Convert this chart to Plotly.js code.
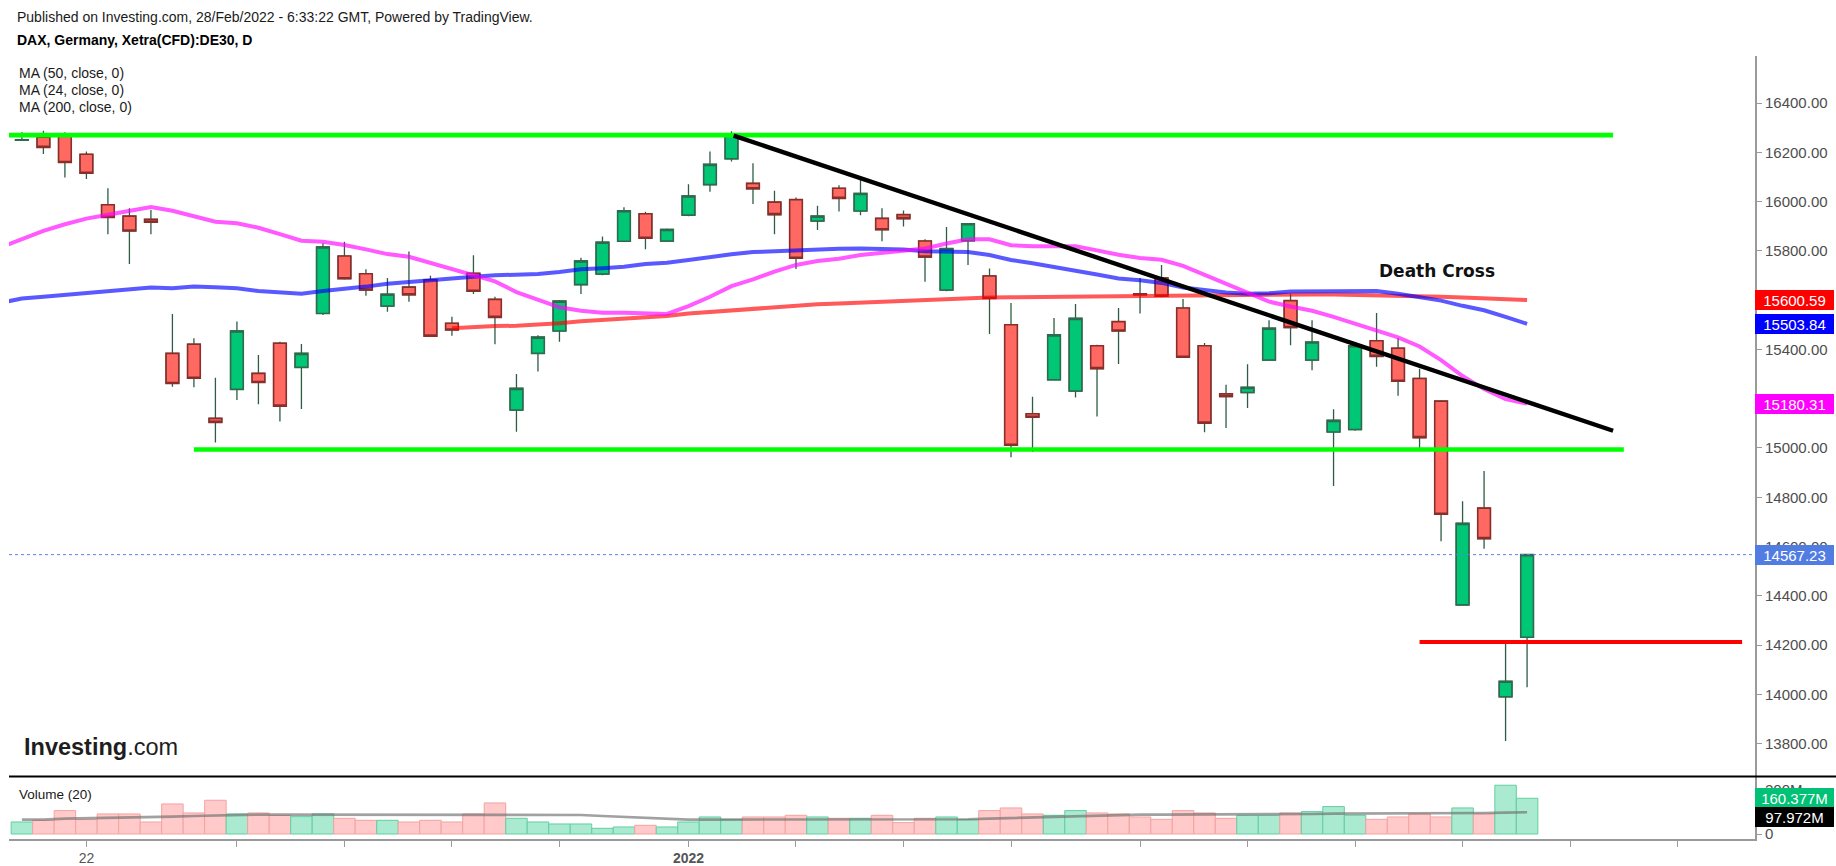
<!DOCTYPE html>
<html>
<head>
<meta charset="utf-8">
<script src="https://cdn.plot.ly/plotly-3.0.1.min.js"></script>
<style>
html,body{margin:0;padding:0;background:#fff;}
#chart{width:1836px;height:866px;}
</style>
</head>
<body>
<div id="chart"></div>
<script>
// ---------------- DATA ----------------
const dates = [
'2021-11-17','2021-11-18','2021-11-19','2021-11-22','2021-11-23','2021-11-24','2021-11-25','2021-11-26','2021-11-29','2021-11-30',
'2021-12-01','2021-12-02','2021-12-03','2021-12-06','2021-12-07','2021-12-08','2021-12-09','2021-12-10','2021-12-13','2021-12-14',
'2021-12-15','2021-12-16','2021-12-17','2021-12-20','2021-12-21','2021-12-22','2021-12-23','2021-12-27','2021-12-28','2021-12-29',
'2021-12-30','2022-01-03','2022-01-04','2022-01-05','2022-01-06','2022-01-07','2022-01-10','2022-01-11','2022-01-12','2022-01-13',
'2022-01-14','2022-01-17','2022-01-18','2022-01-19','2022-01-20','2022-01-21','2022-01-24','2022-01-25','2022-01-26','2022-01-27',
'2022-01-28','2022-01-31','2022-02-01','2022-02-02','2022-02-03','2022-02-04','2022-02-07','2022-02-08','2022-02-09','2022-02-10',
'2022-02-11','2022-02-14','2022-02-15','2022-02-16','2022-02-17','2022-02-18','2022-02-21','2022-02-22','2022-02-23','2022-02-24',
'2022-02-25'];

const open = [
16249,16261,16267,16192,15987,15941,15928,15384,15421,15120,
15238,15303,15425,15327,15546,15779,15707,15576,15653,15683,
15506,15709,15603,15154,15384,15475,15663,15706,15839,15951,
15840,15945,16069,16174,16074,15998,16008,15921,16054,15962,
15932,15947,15840,15641,15841,15698,15500,15139,15277,15231,
15415,15513,15626,15690,15568,15415,15220,15225,15357,15598,
15357,15065,15075,15435,15405,15282,15190,14363,14756,13990,
14232];

const high = [
16282,16288,16282,16203,16054,15973,15966,15544,15445,15285,
15513,15377,15431,15422,15831,15837,15725,15690,15797,15699,
15533,15782,15614,15300,15458,15601,15772,15858,15977,15959,
15891,16070,16203,16286,16156,16044,16017,15983,16066,16088,
15973,15964,15847,15897,15910,15729,15588,15208,15528,15584,
15419,15568,15690,15743,15605,15426,15257,15340,15518,15626,
15518,15157,15415,15548,15446,15322,15194,14784,14907,14221,
14567.23];

const low = [
16247,16193,16098,16092,15868,15747,15868,15249,15246,15022,
15195,15178,15107,15158,15540,15684,15618,15553,15594,15452,
15456,15625,15421,15066,15310,15431,15625,15701,15837,15807,
15840,15941,16040,16163,15990,15868,15726,15885,15960,15945,
15839,15899,15675,15636,15743,15463,14962,14984,15277,15205,
15128,15341,15546,15612,15367,15064,15081,15162,15357,15417,
15315,14846,15070,15330,15212,14994,14621,14363,14591,13811,
14029];

const close = [
16251,16220,16159,16115,15936,15881,15916,15262,15283,15104,
15475,15266,15170,15384,15816,15687,15641,15624,15622,15454,
15479,15636,15530,15242,15450,15596,15759,15835,15963,15851,
15887,16023,16151,16270,16052,15947,15770,15941,16013,16033,
15886,15931,15775,15809,15910,15607,15011,15125,15459,15526,
15322,15475,15622,15616,15368,15101,15209,15246,15486,15489,
15430,15112,15415,15372,15271,15042,14731,14694,14632,14053,
14567.23];

// volume in millions
const volume = [
54,61.5,105,64.5,90,90,54,135,94.5,151.5,
90,94.5,84,78,90,70.5,61.5,61.5,54,61.5,
54,90,139.5,70.5,54,45,45,25.5,31.5,39,
31.5,54,76.5,64.5,76.5,76.5,84,76.5,70.5,70.5,
84,51,70.5,76.5,64.5,105,117,90,84,105,
94.5,90,76.5,66,105,94.5,70.5,84,84,94.5,
100.5,123,84,66,76.5,90,76.5,117,90,219,
160.377];

const volumeMA = [
64.5,64.5,69,70.5,70.5,72,75,78,81,84,
87,87,87,87,87,87,87,87,87,87,
87,87,87,87,87,87,85.5,81,76.5,72,
67.5,64.5,64.5,64.5,64.5,64.5,64.5,64.5,64.5,64.5,
64.5,64.5,64.5,64.5,66,69,72,75,78,81,
84,87,87,87,87,87,87,87,87,89,
90,91.5,91.5,91.5,91.5,91.5,92,93,94,96,
97.972];

// moving averages: first value belongs to the session before dates[0] (2021-11-16)
const ma24 = [
15814,
15849,15881,15908,15931,15947,15963,15978,15963,15941,15918,
15912,15894,15868,15841,15837,15824,15806,15787,15776,15752,
15726,15701,15676,15633,15601,15571,15557,15549,15549,15546,
15544,15576,15614,15657,15684,15716,15743,15759,15768,15783,
15793,15799,15810,15830,15847,15847,15823,15819,15819,15819,
15802,15784,15771,15764,15739,15702,15664,15628,15594,15574,
15557,15532,15504,15474,15449,15412,15357,15292,15239,15198,
15180.31];

const ma50 = [
15589,
15607,15614,15621,15630,15638,15644,15651,15648,15655,15652,
15648,15637,15632,15626,15637,15644,15655,15667,15675,15682,
15687,15695,15701,15703,15706,15714,15725,15730,15736,15747,
15752,15763,15776,15786,15795,15799,15801,15803,15809,15810,
15809,15806,15799,15795,15795,15783,15763,15750,15733,15719,
15704,15688,15681,15670,15651,15640,15631,15626,15628,15635,
15635,15634,15637,15637,15626,15612,15598,15577,15559,15532,
15503.84];

const ma200 = [
null,
null,null,null,null,null,null,null,null,null,null,
null,null,null,null,null,null,null,null,null,null,
15486,15492,15495,15496,15500,15506,15514,15519,15523,15530,
15536,15546,15552,15557,15563,15571,15579,15583,15586,15590,
15594,15598,15601,15603,15609,15611,15612,15613,15614,15615,
15616,15617,15618,15619,15620,15621,15622,15622,15622,15623,
15623,15623,15622,15621,15619,15617,15614,15611,15607,15604,
15600.59];

// drawn levels / trend line (bar-index positions, prices)
const resistanceX = [-0.6, 74.0], resistanceY = [16270, 16270];
const supportX = [8.0, 74.5],     supportY = [14994, 14994];
const trendX = [33.1, 74.0],      trendY = [16268, 15070];
const floorX = [65.0, 80.0],      floorY = [14213, 14213];
const deathCrossPos = [65.8, 15720];

const tickDates = ['2021-11-22','2021-12-01','2021-12-08','2021-12-15','2021-12-22','2022-01-03','2022-01-10',
  '2022-01-17','2022-01-24','2022-02-01','2022-02-08','2022-02-15','2022-02-22','2022-03-01','2022-03-08'];
const tickLabels = ['22','','','','','<b>2022</b>','','','','','','','','',''];

// ---------------- helpers ----------------
function dateIndex(d){
  const i = dates.indexOf(d);
  if (i >= 0) return i;
  // future sessions (weekdays) after the last date
  let cur = new Date(dates[dates.length-1] + 'T00:00:00Z');
  const target = new Date(d + 'T00:00:00Z');
  let n = dates.length - 1;
  while (cur < target){
    cur = new Date(cur.getTime() + 86400000);
    const wd = cur.getUTCDay();
    if (wd !== 0 && wd !== 6) n++;
  }
  return n;
}

const W = 1836, H = 866;
const X0 = 9, X1 = 1755;          // plot area left/right (px)
const PT = 56, PB = 776.4, VB = 838.5; // price top, price bottom, volume bottom (px)
const fx = p => p / W, fy = p => 1 - p / H;

const xi = dates.map((d, i) => i);
const xma = ma24.map((v, i) => i - 1);
const bodyHi = open.map((o, i) => Math.max(o, close[i]));
const bodyLo = open.map((o, i) => Math.min(o, close[i]));
const isUp = close.map((c, i) => c >= open[i]);
const lastClose = close[close.length - 1];

const traces = [];
function maTrace(y, color){
  return {type:'scatter', mode:'lines', x:xma, y:y, xaxis:'x', yaxis:'y',
    line:{color:color, width:4, shape:'linear'}, hoverinfo:'skip', connectgaps:false};
}
traces.push(maTrace(ma200, 'rgba(255,0,0,0.65)'));
traces.push(maTrace(ma50, 'rgba(0,0,255,0.65)'));
traces.push(maTrace(ma24, 'rgba(255,0,255,0.65)'));

// wicks
traces.push({type:'candlestick', x:xi, open:open, high:high, low:low, close:close,
  xaxis:'x', yaxis:'y', whiskerwidth:0, hoverinfo:'skip',
  increasing:{line:{color:'#2f5c45', width:1.3}, fillcolor:'rgba(0,0,0,0)'},
  decreasing:{line:{color:'#2f5c45', width:1.3}, fillcolor:'rgba(0,0,0,0)'}});
// bodies
traces.push({type:'candlestick', x:xi, open:open, high:bodyHi, low:bodyLo, close:close,
  xaxis:'x', yaxis:'y', whiskerwidth:0, hoverinfo:'skip',
  increasing:{line:{color:'#2e6a4d', width:1.6}, fillcolor:'#00C776'},
  decreasing:{line:{color:'#8a2e2b', width:1.6}, fillcolor:'#FF6961'}});

function lineTrace(x, y, color, w){
  return {type:'scatter', mode:'lines', x:x, y:y, xaxis:'x', yaxis:'y',
    line:{color:color, width:w}, hoverinfo:'skip'};
}
traces.push(lineTrace(resistanceX, resistanceY, '#00FF00', 4.6));
traces.push(lineTrace(supportX, supportY, '#00FF00', 4.6));
traces.push(lineTrace(trendX, trendY, '#000000', 4.4));
traces.push(lineTrace(floorX, floorY, '#FF0000', 4));

// volume
traces.push({type:'bar', x:xi, y:volume, xaxis:'x', yaxis:'y2', width:1, hoverinfo:'skip',
  marker:{color:isUp.map(u => u ? '#a9ead1' : '#ffcac9'),
          line:{color:isUp.map(u => u ? '#62cf9f' : '#f3a3a1'), width:1}}});
traces.push({type:'scatter', mode:'lines', x:xi, y:volumeMA, xaxis:'x', yaxis:'y2',
  line:{color:'rgba(110,110,110,0.65)', width:2.6}, hoverinfo:'skip'});

const axisGray = '#9a9a9a';
const tickFont = {family:'Liberation Sans, Arial, sans-serif', size:15, color:'#4d4d4d'};

function valueBox(yref, y, text, bg, yshift){
  return {xref:'paper', x:fx(X1), xanchor:'left', yref:yref, y:y, yanchor:'middle',
    text:text, showarrow:false, bgcolor:bg, bordercolor:bg, borderwidth:1, borderpad:0,
    width:77, height:18, align:'center', yshift:yshift||0,
    font:{family:'Liberation Sans, Arial, sans-serif', size:15, color:'#ffffff'}};
}
function txt(x, y, text, size, extra){
  return Object.assign({xref:'paper', yref:'paper', x:fx(x), y:fy(y), xanchor:'left', yanchor:'middle',
    text:text, showarrow:false,
    font:{family:'Liberation Sans, Arial, sans-serif', size:size, color:'#1a1a1a'}}, extra||{});
}

const annotations = [
  txt(15, 17.5, 'Published on Investing.com, 28/Feb/2022 - 6:33:22 GMT, Powered by TradingView.', 14),
  txt(15, 40, '<b>DAX, Germany, Xetra(CFD):DE30, D</b>', 14, {font:{family:'Liberation Sans, Arial, sans-serif', size:14, color:'#000'}}),
  txt(17, 72.6, 'MA (50, close, 0)', 14),
  txt(17, 90.2, 'MA (24, close, 0)', 14),
  txt(17, 106.6, 'MA (200, close, 0)', 14),
  txt(17, 794, 'Volume (20)', 13.5),
  txt(22, 747, '<b>Investing</b>.com', 23.5, {font:{family:'Liberation Sans, Arial, sans-serif', size:23.5, color:'#1e1e1e'}}),
  {xref:'x', yref:'y', x:deathCrossPos[0], y:deathCrossPos[1], text:'<b>Death Cross</b>', showarrow:false,
   xanchor:'center', yanchor:'middle', font:{family:'DejaVu Sans, Verdana, sans-serif', size:17, color:'#111'}},
  valueBox('y', ma200[ma200.length-1], ma200[ma200.length-1].toFixed(2), '#FF0000'),
  valueBox('y', ma50[ma50.length-1], ma50[ma50.length-1].toFixed(2), '#0000FF'),
  valueBox('y', ma24[ma24.length-1], ma24[ma24.length-1].toFixed(2), '#FF00FF'),
  valueBox('y', lastClose, lastClose.toFixed(2), '#517ce2'),
  valueBox('y2', volume[volume.length-1], volume[volume.length-1].toFixed(3) + 'M', '#00C176'),
  valueBox('y2', volumeMA[volumeMA.length-1], volumeMA[volumeMA.length-1].toFixed(3) + 'M', '#000000', -5)
];

const shapes = [
  {type:'line', xref:'paper', yref:'paper', x0:fx(X0), x1:1, y0:fy(PB), y1:fy(PB),
   line:{color:'#000', width:2}},
  {type:'line', xref:'paper', yref:'y', x0:fx(X0), x1:fx(X1), y0:lastClose, y1:lastClose,
   line:{color:'#5b7fe6', width:1, dash:'dot'}}
];

const layout = {
  width:W, height:H, margin:{l:0, r:0, t:0, b:0},
  paper_bgcolor:'#ffffff', plot_bgcolor:'#ffffff',
  showlegend:false, dragmode:false, hovermode:false,
  boxgap:0.41, boxgroupgap:0, bargap:0,
  font:{family:'Liberation Sans, Arial, sans-serif', color:'#222'},
  xaxis:{domain:[fx(X0), fx(X1)], range:[-0.6, 80.6], anchor:'y2', type:'linear',
    showgrid:false, zeroline:false, showline:true, linecolor:axisGray, linewidth:2,
    ticks:'outside', ticklen:6, tickwidth:1, tickcolor:axisGray,
    tickmode:'array', tickvals:tickDates.map(dateIndex), ticktext:tickLabels,
    tickfont:{family:'Liberation Sans, Arial, sans-serif', size:14, color:'#555'},
    rangeslider:{visible:false}, fixedrange:true},
  yaxis:{domain:[fy(PB), fy(PT)], range:[13667, 16591], side:'right', anchor:'x',
    showgrid:false, zeroline:false, showline:true, linecolor:axisGray, linewidth:2,
    ticks:'outside', ticklen:5, tickwidth:1, tickcolor:axisGray,
    tick0:13800, dtick:200, tickformat:'.2f', tickfont:tickFont, fixedrange:true},
  yaxis2:{domain:[fy(VB), fy(PB)], range:[-20.2, 258.6], side:'right', anchor:'x',
    showgrid:false, zeroline:false, showline:true, linecolor:axisGray, linewidth:2,
    ticks:'outside', ticklen:5, tickwidth:1, tickcolor:axisGray,
    tickmode:'array', tickvals:[0, 200], ticktext:['0', '200M'], tickfont:tickFont, fixedrange:true},
  shapes:shapes,
  annotations:annotations
};

Plotly.newPlot('chart', traces, layout, {staticPlot:true, displayModeBar:false});
</script>
</body>
</html>
